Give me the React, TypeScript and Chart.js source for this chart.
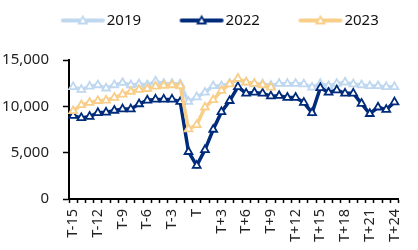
import React, { useEffect, useRef } from "react";
import { Chart, registerables } from "chart.js";

Chart.register(...registerables);

const categories: string[] = [
  "T-15", "T-14", "T-13", "T-12", "T-11", "T-10", "T-9", "T-8", "T-7", "T-6",
  "T-5", "T-4", "T-3", "T-2", "T-1", "T", "T+1", "T+2", "T+3", "T+4",
  "T+5", "T+6", "T+7", "T+8", "T+9", "T+10", "T+11", "T+12", "T+13", "T+14",
  "T+15", "T+16", "T+17", "T+18", "T+19", "T+20", "T+21", "T+22", "T+23", "T+24",
];

const series2019: number[] = [
  12100, 11800, 12150, 12300, 11950, 12300, 12550, 12300, 12400, 12300,
  12700, 12450, 12450, 12400, 10500, 11000, 11500, 12200, 12200, 12450,
  12900, 12600, 12400, 12400, 12250, 12450, 12450, 12450, 12400, 12050,
  12450, 12200, 12450, 12600, 12400, 12300, 12200, 12200, 12100, 12100,
];

const series2022: number[] = [
  9000, 8750, 8900, 9300, 9350, 9550, 9700, 9700, 10250, 10650,
  10750, 10750, 10750, 10500, 5100, 3600, 5300, 7500, 9400, 10600,
  12100, 11400, 11500, 11400, 11100, 11150, 10950, 10950, 10400, 9300,
  12000, 11500, 11750, 11400, 11400, 10300, 9200, 9900, 9650, 10450,
];

const series2023: (number | null)[] = [
  9500, 10150, 10400, 10600, 10650, 10950, 11300, 11600, 11800, 11900,
  12150, 12250, 12300, 12200, 7550, 8000, 9900, 10700, 11700, 12400,
  13000, 12600, 12450, 12300, 12050, null, null, null, null, null,
  null, null, null, null, null, null, null, null, null, null,
];

const seriesNames: string[] = ["2019", "2022", "2023"];
const seriesColors: string[] = ["#BFD8EF", "#002B7A", "#F9CE88"];
const yTickValues: number[] = [0, 5000, 10000, 15000];
const labelEvery = 3;

function legendIcon(color: string): HTMLCanvasElement {
  const c = document.createElement("canvas");
  c.width = 80;
  c.height = 14;
  const ctx = c.getContext("2d")!;
  ctx.strokeStyle = color;
  ctx.lineWidth = 4;
  ctx.lineCap = "round";
  ctx.beginPath();
  ctx.moveTo(37, 7);
  ctx.lineTo(77, 7);
  ctx.stroke();
  ctx.beginPath();
  ctx.moveTo(57, 3);
  ctx.lineTo(61, 10);
  ctx.lineTo(53, 10);
  ctx.closePath();
  ctx.fillStyle = "#ffffff";
  ctx.fill();
  ctx.lineWidth = 1.8;
  ctx.stroke();
  return c;
}

const legendSpacer = {
  id: "legendSpacer",
  beforeInit(chart: any) {
    const lg = chart.legend;
    if (lg && !lg._spaced) {
      const orig = lg.fit;
      lg.fit = function () {
        orig.call(this);
        this.height += 22;
      };
      lg._spaced = true;
    }
  },
};

export default function App() {
  const ref = useRef<HTMLCanvasElement | null>(null);

  useEffect(() => {
    if (!ref.current) return;
    const icons = seriesColors.map((c) => legendIcon(c));
    const seriesData = [series2019, series2022, series2023];
    const orders = [3, 2, 1];
    const chart = new Chart(ref.current, {
      type: "line",
      data: {
        labels: categories,
        datasets: seriesNames.map((name, i) => ({
          label: name,
          data: seriesData[i],
          borderColor: seriesColors[i],
          backgroundColor: seriesColors[i],
          borderWidth: 3.5,
          pointStyle: "triangle",
          pointRadius: 4.5,
          pointBorderWidth: 1.8,
          pointBackgroundColor: "#ffffff",
          pointBorderColor: seriesColors[i],
          tension: 0,
          spanGaps: false,
          order: orders[i],
        })),
      },
      options: {
        animation: false,
        responsive: true,
        maintainAspectRatio: false,
        layout: { padding: { top: 3, left: 2, right: 9, bottom: 0 } },
        plugins: {
          tooltip: { enabled: false },
          legend: {
            display: true,
            position: "top",
            align: "center",
            labels: {
              usePointStyle: true,
              pointStyleWidth: 67,
              boxHeight: 15,
              padding: 10,
              color: "#111",
              font: { family: "'Noto Sans', sans-serif", size: 15 },
              generateLabels: (ch: any) =>
                ch.data.datasets.map((ds: any, i: number) => ({
                  text: ds.label,
                  fillStyle: seriesColors[i],
                  strokeStyle: seriesColors[i],
                  lineWidth: 0,
                  hidden: !ch.isDatasetVisible(i),
                  datasetIndex: i,
                  pointStyle: icons[i],
                  fontColor: "#111",
                })),
            },
          },
        },
        scales: {
          x: {
            type: "category",
            offset: true,
            grid: {
              display: true,
              offset: true,
              drawOnChartArea: false,
              drawTicks: true,
              tickLength: 4,
              tickColor: "#000",
              tickWidth: 1.5,
            },
            border: { display: true, color: "#000", width: 2 },
            afterFit: (axis: any) => {
              axis.height = 51;
            },
            ticks: {
              autoSkip: false,
              maxRotation: 90,
              minRotation: 90,
              padding: 6,
              color: "#222",
              font: { family: "'Noto Sans', sans-serif", size: 14.5 },
              callback: (_v: any, idx: number) =>
                idx % labelEvery === 0 ? categories[idx] : "",
            },
          },
          y: {
            min: yTickValues[0],
            max: yTickValues[yTickValues.length - 1],
            grid: {
              display: true,
              drawOnChartArea: false,
              drawTicks: true,
              tickLength: 6,
              tickColor: "#000",
              tickWidth: 1.5,
            },
            border: { display: true, color: "#000", width: 2 },
            afterBuildTicks: (axis: any) => {
              axis.ticks = yTickValues.map((v) => ({ value: v }));
            },
            afterFit: (axis: any) => {
              axis.width = 67;
            },
            ticks: {
              padding: 14,
              color: "#222",
              font: { family: "'Noto Sans', sans-serif", size: 15 },
              callback: (v: any) => Number(v).toLocaleString("en-US"),
            },
          },
        },
      },
      plugins: [legendSpacer],
    });
    return () => chart.destroy();
  }, []);

  return (
    <div style={{ position: "fixed", left: 0, top: 0, width: 418, height: 250, background: "#fff" }}>
      <canvas ref={ref} />
    </div>
  );
}
